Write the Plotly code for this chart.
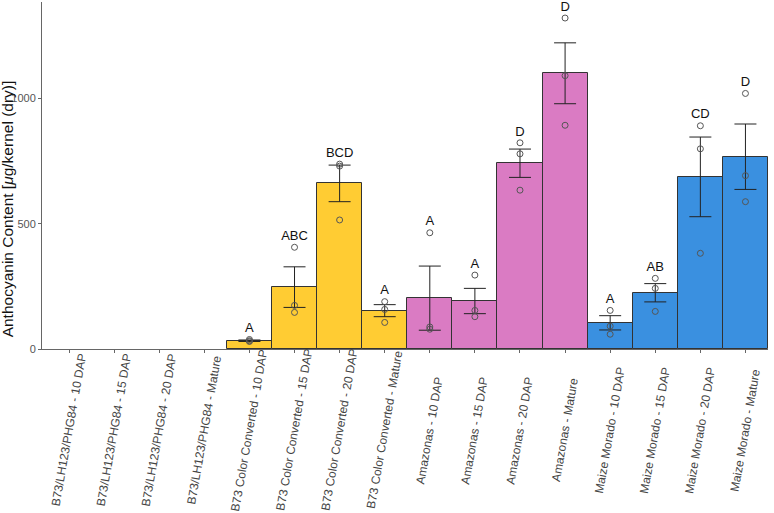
import plotly.graph_objects as go

categories = [
    "B73/LH123/PHG84 - 10 DAP", "B73/LH123/PHG84 - 15 DAP", "B73/LH123/PHG84 - 20 DAP", "B73/LH123/PHG84 - Mature",
    "B73 Color Converted - 10 DAP", "B73 Color Converted - 15 DAP", "B73 Color Converted - 20 DAP", "B73 Color Converted - Mature",
    "Amazonas - 10 DAP", "Amazonas - 15 DAP", "Amazonas - 20 DAP", "Amazonas - Mature",
    "Maize Morado - 10 DAP", "Maize Morado - 15 DAP", "Maize Morado - 20 DAP", "Maize Morado - Mature",
]
groups = ["B73/LH123/PHG84"] * 4 + ["B73 Color Converted"] * 4 + ["Amazonas"] * 4 + ["Maize Morado"] * 4

means = [None, None, None, None,
         33, 249, 661, 153,
         202, 190, 741, 1101,
         104, 225, 686, 767]
err_upper = [None, None, None, None,
             36, 328, 734, 177,
             331, 242, 798, 1222,
             133, 261, 846, 898]
err_lower = [None, None, None, None,
             30, 166, 588, 129,
             75, 141, 685, 979,
             76, 188, 528, 637]
points = [[], [], [], [],
          [38, 33, 30], [406, 174, 146], [738, 730, 515], [189, 158, 106],
          [464, 88, 79], [295, 154, 129], [823, 779, 634], [1321, 1091, 893],
          [154, 91, 59], [282, 242, 150], [891, 799, 382], [1020, 692, 588]]
letters = ["", "", "", "",
           "A", "ABC", "BCD", "A",
           "A", "A", "D", "D",
           "A", "AB", "CD", "D"]

group_colors = {
    "B73/LH123/PHG84": "#FFCC33",
    "B73 Color Converted": "#FFCC33",
    "Amazonas": "#DA7BC3",
    "Maize Morado": "#3A90E0",
}

FONT = "Liberation Sans, Arial, sans-serif"

fig = go.Figure()

bar_x = [c for c, m in zip(categories, means) if m is not None]
bar_y = [m for m in means if m is not None]
bar_c = [group_colors[g] for g, m in zip(groups, means) if m is not None]
up = [u - m for u, m in zip(err_upper, means) if m is not None]
lo = [m - l for l, m in zip(err_lower, means) if m is not None]

fig.add_trace(go.Bar(
    x=bar_x, y=bar_y,
    marker=dict(color=bar_c, line=dict(color="#333333", width=1)),
    width=1,
    error_y=dict(type="data", array=up, arrayminus=lo, symmetric=False,
                 color="#222222", thickness=1, width=11),
    showlegend=False,
))

px_x, px_y = [], []
for c, pts in zip(categories, points):
    for p in pts:
        px_x.append(c)
        px_y.append(p)
fig.add_trace(go.Scatter(
    x=px_x, y=px_y, mode="markers",
    marker=dict(symbol="circle-open", size=6, color="#555555", line=dict(width=1, color="#555555")),
    showlegend=False,
))

lx, ly, lt = [], [], []
for c, pts, lab in zip(categories, points, letters):
    if lab:
        lx.append(c)
        ly.append(max(pts) + 42)
        lt.append(lab)
fig.add_trace(go.Scatter(
    x=lx, y=ly, mode="text", text=lt, textposition="middle center",
    textfont=dict(family=FONT, size=13, color="#111111"),
    cliponaxis=False,
    showlegend=False,
))

# Rotated category labels, centred under each tick (as in the reference)
for c in categories:
    fig.add_annotation(
        text=c, x=c, xref="x", y=-0.234, yref="paper",
        textangle=-80, showarrow=False, xanchor="center", yanchor="middle",
        font=dict(family=FONT, size=12, color="#444444"),
    )

fig.add_annotation(
    text="Anthocyanin Content [<i>μ</i>g/kernel (dry)]",
    xref="paper", yref="paper", x=-0.047, y=0.405, textangle=-90,
    showarrow=False, xanchor="center", yanchor="middle",
    font=dict(family=FONT, size=15.5, color="#111111"),
)

fig.update_layout(
    width=774, height=513,
    margin=dict(l=42, r=6, t=2, b=164),
    plot_bgcolor="white", paper_bgcolor="white",
    bargap=0,
    xaxis=dict(
        type="category", categoryorder="array", categoryarray=categories,
        range=[-0.6, 15.5],
        showticklabels=False,
        showline=True, linecolor="#666666", linewidth=1,
        ticks="outside", ticklen=3, tickcolor="#666666",
        showgrid=False, zeroline=False,
    ),
    yaxis=dict(
        range=[0, 1385],
        tickvals=[0, 500, 1000],
        tickfont=dict(family=FONT, size=11, color="#555555"),
        showline=True, linecolor="#666666", linewidth=1,
        ticks="outside", ticklen=3, tickcolor="#666666",
        showgrid=False, zeroline=False,
    ),
)

fig.write_html("out.html")
